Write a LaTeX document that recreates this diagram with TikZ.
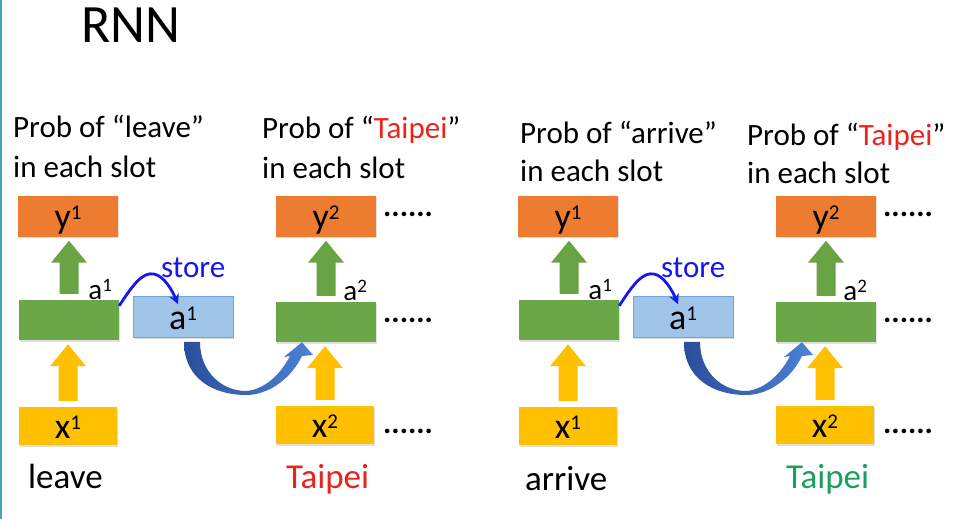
\documentclass[tikz,border=0pt]{standalone}
\usepackage{fontspec}
\setmainfont{Carlito}
\usetikzlibrary{calc,arrows.meta,shadows}
\definecolor{boxorange}{RGB}{238,124,48}
\definecolor{boxgreen}{RGB}{106,167,70}
\definecolor{arrgreen}{RGB}{104,163,68}
\definecolor{boxyellow}{RGB}{255,192,0}
\definecolor{memfill}{RGB}{160,197,232}
\definecolor{memdraw}{RGB}{110,165,220}
\definecolor{storeblue}{RGB}{22,22,238}
\definecolor{bigdark}{RGB}{42,78,156}
\definecolor{biglight}{RGB}{76,130,214}
\definecolor{tred}{RGB}{232,36,28}
\definecolor{tgreen}{RGB}{28,158,94}
\definecolor{edgeline}{RGB}{70,165,185}
\newcommand\sups[1]{\raisebox{9.5pt}{\fontsize{21}{21}\selectfont #1}}
\newcommand\lsups[1]{\raisebox{8.5pt}{\fontsize{19}{19}\selectfont #1}}
\newcommand\myblockarrow[3]{%
  \fill[#3] let \p1=(#1.north), \p2=(#2.south) in
    (\x1-9.5pt,\y1+6pt) -- (\x1+9.5pt,\y1+6pt) -- (\x1+9.5pt,\y2-26pt)
    -- (\x1+18pt,\y2-26pt) -- (\x1,\y2-4pt) -- (\x1-18pt,\y2-26pt)
    -- (\x1-9.5pt,\y2-26pt) -- cycle;}
\tikzset{
  box/.style={rectangle, inner sep=0pt, text height=25pt, text depth=0pt,
    font=\fontsize{36}{42}\selectfont,
    drop shadow={shadow xshift=1.2pt, shadow yshift=-1.5pt, opacity=0.25}},
  ybox/.style={box, fill=boxorange, minimum width=100pt, minimum height=41pt},
  hbox/.style={box, fill=boxgreen, minimum width=100pt, minimum height=40pt},
  xbox/.style={box, fill=boxyellow, minimum width=98pt, minimum height=38pt},
  mbox/.style={box, fill=memfill, draw=memdraw, line width=0.8pt, minimum width=100pt, minimum height=41pt},
  alabel/.style={anchor=base west, inner sep=0pt, font=\fontsize{29}{32}\selectfont},
  storelabel/.style={anchor=base west, inner sep=0pt, text=storeblue, font=\fontsize{31}{34}\selectfont},
  dots/.style={anchor=base west, inner sep=0pt, font=\fontsize{31}{34}\selectfont\bfseries},
  head/.style={anchor=base west, inner sep=0pt, font=\fontsize{31}{36}\selectfont},
  word/.style={anchor=base west, inner sep=0pt, font=\fontsize{35}{42}\selectfont},
  storearrow/.style={draw=storeblue, line width=2.8pt, -{Stealth[length=10pt,width=10pt]}},
  bigarrow/.style={left color=bigdark, right color=biglight}
}
\newcommand\rnnpanel[1]{%
  \node[ybox] (y1#1) at (68,216) {y\sups{1}};
  \node[hbox] (h1#1) at (69,320) {};
  \node[xbox] (x1#1) at (68,426) {x\sups{1}};
  \node[mbox] (m1#1) at (183,317) {a\sups{1}};
  \node[ybox] (y2#1) at (326,216) {y\sups{2}};
  \node[hbox] (h2#1) at (326,322) {};
  \node[xbox] (x2#1) at (325,425) {x\sups{2}};
  \node[alabel] (la1#1) at ($(h1#1.north east)+(-31,0)$) {a\lsups{1}};
  \node[alabel] (la2#1) at ($(h2#1.north east)+(-33,-1)$) {a\lsups{2}};
  \myblockarrow{h1#1}{y1#1}{arrgreen}
  \myblockarrow{x1#1}{h1#1}{boxyellow}
  \myblockarrow{h2#1}{y2#1}{arrgreen}
  \myblockarrow{x2#1}{h2#1}{boxyellow}
  \node[storelabel] (st#1) at (161,277) {store};
  \draw[storearrow] ($(h1#1.north east)+(0,6)$) .. controls (134,283) and (143,272) .. (154,274)
     .. controls (164,276) and (172,290) .. ($(m1#1.north)+(-5,8)$);
  \path[bigarrow] ($(m1#1.south)+(1,4)$) .. controls (184,379) and (214,395) .. (246,395)
     .. controls (270,395) and (292,377) .. (302,356) -- (313,355) -- ($(h2#1.south)+(-24,0)$)
     -- (284,357) -- (290,356) .. controls (281,374) and (264,390) .. (246,391)
     .. controls (222,391) and (200,372) .. ($(m1#1.south)+(17,4)$) -- cycle;
  \node[dots] (d1#1) at (383,216.5) {......};
  \node[dots] (d2#1) at (383,322.5) {......};
  \node[dots] (d3#1) at (383,433) {......};
}
\begin{document}
\begin{tikzpicture}[x=1pt,y=-1pt]
\useasboundingbox (0,0) rectangle (954,519);
\fill[white] (0,0) rectangle (954,519);
\draw[edgeline, line width=1.5pt] (0.75,0) -- (0.75,519);
\node[anchor=base west, inner sep=0pt, font=\fontsize{54}{60}\selectfont] (title) at (81,43) {RNN};
% left panel
\begin{scope}
  \rnnpanel{a}
\end{scope}
\begin{scope}[xshift=500pt]
  \rnnpanel{b}
\end{scope}
% headings
\node[head] (hA1) at (13,138) {Prob of “leave”};
\node[head] (hA2) at (13,177) {in each slot};
\node[head] (hB1) at (262,139) {Prob of “\textcolor{tred}{Taipei}”};
\node[head] (hB2) at (262,178) {in each slot};
\node[head] (hC1) at (520,143) {Prob of “arrive”};
\node[head] (hC2) at (520,181) {in each slot};
\node[head] (hD1) at (747,146) {Prob of “\textcolor{tred}{Taipei}”};
\node[head] (hD2) at (747,183) {in each slot};
% bottom words
\node[word] (wA) at (28,488) {leave};
\node[word, text=tred] (wB) at (286,488) {Taipei};
\node[word] (wC) at (525,490) {arrive};
\node[word, text=tgreen] (wD) at (786,488) {Taipei};
\end{tikzpicture}
\end{document}
